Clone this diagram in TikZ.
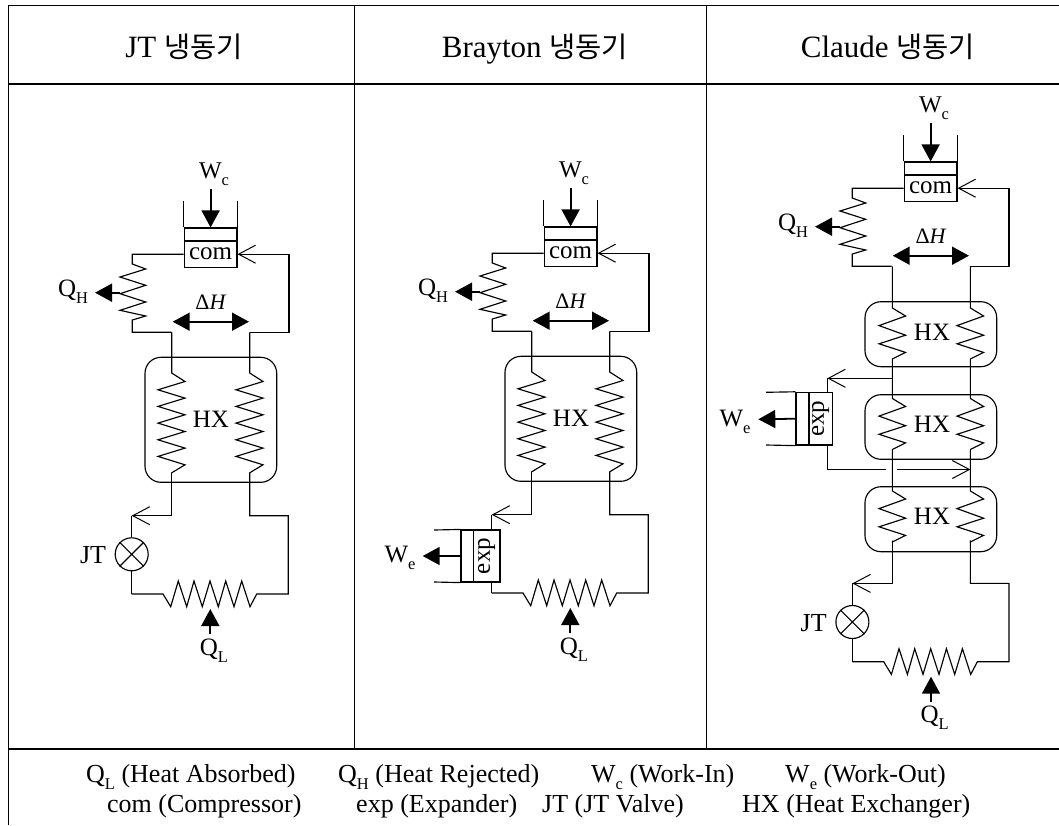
\documentclass[tikz,border=0pt]{standalone}
\usepackage{fontspec}
\setmainfont{Liberation Serif}
\newfontfamily\cjk{Noto Sans CJK KR}
\usetikzlibrary{arrows.meta}
\newcommand\fsz[1]{\fontsize{#1}{#1}\selectfont}
\newcommand\sbs[1]{\raisebox{-0.28em}{\fontsize{16.5}{16.5}\selectfont #1}}
\tikzset{
  frame/.style={line width=1.3pt,black},
  wire/.style={line width=1.15pt,black,line join=miter},
  barbtip/.tip={Straight Barb[length=17pt,width=18pt,line width=1pt]},
  bigtip/.tip={Triangle[length=17pt,width=18pt]},
  power/.style={line width=1.8pt,black,-{bigtip}},
  hxbox/.style={draw,line width=1.15pt,rounded corners=16pt,inner sep=0pt},
  label/.style={inner sep=0pt,font=\fsz{25}},
  box/.style={draw,line width=1.15pt,inner sep=0pt,font=\fsz{25}},
  head/.style={inner sep=0pt,anchor=base,font=\fsz{31}},
  legend/.style={inner sep=0pt,anchor=base west,font=\fsz{26}}
}
% vertical coil, 5 teeth: starts on the centre line, ends on the centre line
\newcommand\coilLong{-- ++(13.3,8.5) -- ++(-27,8.3) -- ++(27,8.3) -- ++(-27,8.3) -- ++(27,8.4) -- ++(-27,8.3) -- ++(27,8.4) -- ++(-27,8.3) -- ++(27,8.3) -- ++(-27,8.3) -- ++(27,8.4) -- ++(-13.3,8)}
\newcommand\coilShort{-- ++(13.2,8) -- ++(-26.6,9.6) -- ++(26.6,9.6) -- ++(-26.6,8.6) -- ++(26.6,8.6) -- ++(-13.2,6.6)}
\newcommand\UpperLoop{%
  \node[box,minimum width=52.7pt,minimum height=26.3pt] (com) at (210.6,254.2) {com};
  \node[box,minimum width=52.7pt,minimum height=13pt] (pis) at (210.6,234.5) {};
  \draw[wire] (pis.north west) -- ++(0,-26);
  \draw[wire] (pis.north east) -- ++(0,-26);
  \node[label,font=\fsz{24}] (wc) at (214,174) {W\sbs{c}};
  \coordinate (wcs) at (210.6,189);
  \draw[power] (wcs) -- (pis.north);
  \coordinate (cl) at (132.3,254.2);
  \coordinate (cr) at (289,254.2);
  \coordinate (bl) at (132.3,332.3);
  \coordinate (br) at (289,332.3);
  \coordinate (il) at (171.7,332.3);
  \coordinate (ir) at (249.7,332.3);
  \draw[wire] (com.west) -- (cl) -- (132.3,264) -- ++(13.4,5) -- ++(-25.7,8) -- ++(25.7,8.3) -- ++(-25.7,8.4) -- ++(25.7,8.3) -- ++(-25.7,8.3) -- ++(25.7,5.7) -- (132.3,320) -- (bl) -- (il);
  \draw[wire,-{barbtip}] (ir) -- (br) -- (cr) -- (com.east);
  \coordinate (qhs) at (120,292.7);
  \coordinate (qht) at (95,292.7);
  \draw[power] (qhs) -- (qht);
  \node[label] (qh) at (73,292) {Q\sbs{H}};
  \coordinate (dl) at (172.7,321.7);
  \coordinate (dr) at (249,321.7);
  \draw[line width=1.8pt,{bigtip}-{bigtip}] (dl) -- (dr);
  \node[label,font=\fsz{22}] (dh) at (211,302) {Δ\textit{H}};
}
\newcommand\HXlong{%
  \node[hxbox,minimum width=131.7pt,minimum height=125pt] (hx) at (210.85,419.8) {};
  \node[label] (hxt) at (211,419) {HX};
  \draw[wire] (171.7,332.3) -- (171.7,373) \coilLong -- (171.7,473);
  \draw[wire] (249.7,332.3) -- (249.7,373) \coilLong -- (249.7,473);
}
\newcommand\QLpart{%
  \coordinate (ll) at (171.7,473);
  \coordinate (lr) at (249.7,473);
  \coordinate (tip) at (131.7,515.7);
  \coordinate (rt) at (288.3,515.7);
  \coordinate (bw) at (131.7,594);
  \coordinate (be) at (288.3,594);
  \draw[wire,-{barbtip}] (ll) |- (tip);
  \draw[wire] (lr) |- (rt) -- (be) -- (256.7,594) -- (250,606.7) -- (241.7,581) -- (234,606.7) -- (225.7,581) -- (218.3,606.7) -- (210,581) -- (202.3,606.7) -- (194,581) -- (186.7,606.7) -- (178.3,581) -- (170.7,606.7) -- (163,594) -- (bw);
  \coordinate (qls) at (210.3,634);
  \coordinate (qlt) at (210.3,609);
  \draw[power] (qls) -- (qlt);
  \node[label] (ql) at (214,650.5) {Q\sbs{L}};
}
\newcommand\JTvalve{%
  \node[draw,circle,line width=1.15pt,minimum size=33pt,inner sep=0pt] (jt) at (131.7,554.3) {};
  \draw[wire] (jt.45) -- (jt.225) (jt.135) -- (jt.315);
  \draw[wire] (tip) -- (jt.north) (jt.south) -- (bw);
  \node[label,font=\fsz{26}] (jtt) at (93,555) {JT};
}
\begin{document}
\begin{tikzpicture}[x=1pt,y=-1pt]
\useasboundingbox (0,0) rectangle (1059,825);
\fill[white] (0,0) rectangle (1059,825);
% table
\coordinate (tl) at (8.5,5.5);
\coordinate (tr) at (1059,5.5);
\coordinate (hl) at (8.5,84);
\coordinate (hr) at (1059,84);
\coordinate (ml) at (8.5,749);
\coordinate (mr) at (1059,749);
\coordinate (bo) at (8.5,825);
\coordinate (v1t) at (354.3,5.5);
\coordinate (v1b) at (354.3,749);
\coordinate (v2t) at (706.3,5.5);
\coordinate (v2b) at (706.3,749);
\draw[frame] (tr) -- (tl) -- (bo);
\draw[frame] (hl) -- (hr);
\draw[frame] (ml) -- (mr);
\draw[frame] (v1t) -- (v1b);
\draw[frame] (v2t) -- (v2b);
% headers
\node[head] (h1) at (184,57) {JT {\cjk\fsz{28.5}냉동기}};
\node[head] (h2) at (535,57) {Brayton {\cjk\fsz{28.5}냉동기}};
\node[head] (h3) at (888,57) {Claude {\cjk\fsz{28.5}냉동기}};
% JT
\begin{scope}[name prefix=a-]
  \UpperLoop \HXlong \QLpart \JTvalve
\end{scope}
% Brayton
\begin{scope}[shift={(360,-1)},name prefix=b-]
  \UpperLoop \HXlong \QLpart
\end{scope}
\node[box,rotate=90,minimum width=52pt,minimum height=26.7pt] (bexp) at (486.6,556) {exp};
\node[draw,line width=1.15pt,minimum width=12.3pt,minimum height=52pt,inner sep=0pt] (bpis) at (467.1,556) {};
\coordinate (bel1) at (434,530);
\coordinate (bel2) at (434,582);
\draw[wire] (bpis.north west) -- (bel1) (bpis.south west) -- (bel2);
\draw[wire] (b-tip) -- (491.7,530);
\draw[wire] (491.7,582) -- (b-bw);
\coordinate (bwe) at (422.7,556);
\draw[power] (bpis.west) -- (bwe);
\node[label] (bwet) at (400,558) {W\sbs{e}};
% Claude
\begin{scope}[shift={(720,-66)},name prefix=c-]
  \UpperLoop
\end{scope}
\begin{scope}[shift={(720.7,67.7)},name prefix=d-]
  \QLpart \JTvalve
\end{scope}
\node[hxbox,minimum width=131.7pt,minimum height=65pt] (hx1) at (930.85,334.2) {};
\node[hxbox,minimum width=131.7pt,minimum height=64.6pt] (hx2) at (930.85,427) {};
\node[hxbox,minimum width=131.7pt,minimum height=65pt] (hx3) at (930.85,519.2) {};
\node[label] (hx1t) at (932,332) {HX};
\node[label] (hx2t) at (932,424) {HX};
\node[label] (hx3t) at (932,516) {HX};
\foreach \xx in {892.4,970.4}{
  \draw[wire] (\xx,266.3) -- (\xx,308) \coilShort -- (\xx,398.5) \coilShort -- (\xx,491) \coilShort -- (\xx,540.7);
}
\node[box,rotate=90,minimum width=52.7pt,minimum height=23.3pt] (cexp) at (820.6,418.7) {exp};
\node[draw,line width=1.15pt,minimum width=13pt,minimum height=52.7pt,inner sep=0pt] (cpis) at (802.5,418.7) {};
\coordinate (cel1) at (766,392.3);
\coordinate (cel2) at (766,445);
\draw[wire] (cpis.north west) -- (cel1) (cpis.south west) -- (cel2);
\coordinate (ctap) at (892.4,378.3);
\coordinate (ctip) at (827.3,378.3);
\draw[wire,-{barbtip}] (ctap) -- (ctip);
\draw[wire] (ctip) -- (827.3,392.3);
\coordinate (cg1) at (886,469.5);
\coordinate (cg2) at (897,469.5);
\coordinate (cin) at (970.4,469.5);
\draw[wire] (827.3,445) |- (cg1);
\draw[wire,-{barbtip}] (cg2) -- (cin);
\coordinate (cwe) at (758.3,419.3);
\draw[power] (cpis.west) -- (cwe);
\node[label] (cwet) at (735,422) {W\sbs{e}};
% legend
\node[legend] (l1) at (86,782) {Q\sbs{L} (Heat Absorbed)};
\node[legend] (l2) at (338,782) {Q\sbs{H} (Heat Rejected)};
\node[legend] (l3) at (591,782) {W\sbs{c} (Work-In)};
\node[legend] (l4) at (785,782) {W\sbs{e} (Work-Out)};
\node[legend] (l5) at (107,812) {com (Compressor)};
\node[legend] (l6) at (356,812) {exp (Expander)};
\node[legend] (l7) at (542,812) {JT (JT Valve)};
\node[legend] (l8) at (742,812) {HX (Heat Exchanger)};
\end{tikzpicture}
\end{document}
